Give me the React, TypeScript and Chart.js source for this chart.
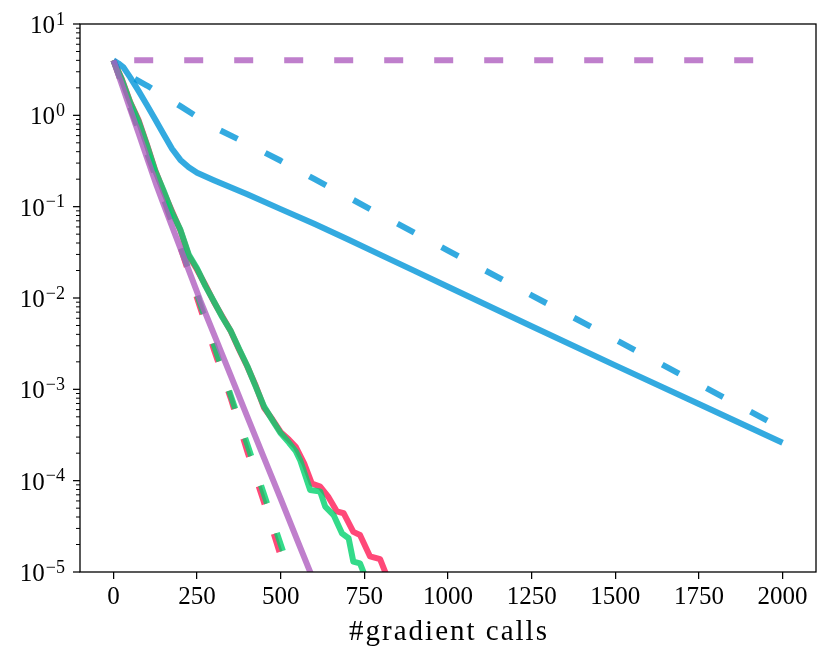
import { useEffect, useRef } from "react";
import Chart from "chart.js/auto";

const FONT = '"Liberation Serif", "Times New Roman", serif';

// axes
const xTickValues = [0, 250, 500, 750, 1000, 1250, 1500, 1750, 2000];
const yDecades = [1e-5, 1e-4, 1e-3, 1e-2, 1e-1, 1, 10];
const yExponentLabels = ["\u22125", "\u22124", "\u22123", "\u22122", "\u22121", "0", "1"];
const xTitle = "#gradient calls";

// purple
const purpleSolidX = [0, 25, 50, 75, 100, 130, 150, 200, 259, 300, 350, 400, 450, 500, 550, 600];
const purpleSolidY = [4.0, 2.17, 1.17, 0.64, 0.345, 0.166, 0.106, 0.0352, 0.0095, 0.00405, 0.00143, 0.000504, 0.000178, 0.000063, 0.000022, 0.0000078];
const purpleDashX = [62, 500, 1000, 1500, 2000];
const purpleDashY = [4.0, 4.0, 4.0, 4.0, 4.0];

// blue
const blueSolidX = [0, 15, 30, 50, 75, 100, 125, 150, 175, 200, 225, 250, 300, 350, 400, 500, 600, 700, 800, 900, 1000, 1250, 1500, 1750, 2000];
const blueSolidY = [4.0, 3.7, 3.35, 2.6, 1.85, 1.3, 0.9, 0.62, 0.43, 0.325, 0.27, 0.235, 0.195, 0.163, 0.137, 0.094, 0.065, 0.044, 0.0295, 0.0198, 0.0133, 0.0049, 0.00183, 0.00069, 0.00026];
const blueDashX = [64, 100, 200, 300, 400, 500, 600, 700, 800, 900, 1000, 1250, 1500, 1750, 2000];
const blueDashY = [2.5, 2.12, 1.26, 0.74, 0.49, 0.318, 0.201, 0.128, 0.081, 0.0518, 0.033, 0.0107, 0.0035, 0.00114, 0.00037];

// green
const greenSolidX = [0, 25, 50, 75, 100, 125, 150, 175, 200, 225, 250, 275, 300, 325, 350, 375, 400, 425, 450, 475, 500, 525, 545, 558, 588, 618, 633, 658, 683, 703, 717, 737, 755];
const greenSolidY = [4.0, 2.45, 1.38, 0.86, 0.47, 0.245, 0.15, 0.086, 0.056, 0.03, 0.021, 0.0135, 0.0092, 0.0062, 0.0044, 0.0028, 0.0018, 0.00108, 0.00065, 0.00046, 0.00033, 0.00026, 0.00021, 0.000168, 0.000079, 0.000076, 0.000052, 0.000042, 0.0000265, 0.0000234, 0.000013, 0.0000124, 0.0000085];
const greenDashX = [0, 50, 100, 150, 200, 250, 300, 350, 400, 450, 500, 540];
const greenDashY = [4.0, 1.26, 0.4, 0.126, 0.038, 0.011, 0.0031, 0.00087, 0.00025, 0.000071, 0.00002, 0.0000075];

// red
const redSolidX = [0, 25, 50, 75, 100, 125, 150, 175, 200, 225, 250, 275, 300, 325, 350, 375, 400, 425, 450, 475, 500, 525, 545, 570, 593, 618, 643, 668, 688, 717, 737, 767, 797, 820];
const redSolidY = [4.0, 2.5, 1.4, 0.89, 0.48, 0.25, 0.145, 0.089, 0.055, 0.029, 0.0204, 0.0138, 0.0091, 0.0063, 0.00437, 0.00275, 0.00178, 0.0011, 0.00063, 0.00047, 0.00034, 0.00028, 0.000235, 0.000155, 0.000093, 0.000086, 0.000066, 0.000046, 0.000044, 0.0000275, 0.0000254, 0.0000148, 0.0000138, 0.0000085];
const redDashX = [0, 50, 100, 150, 200, 250, 300, 350, 400, 450, 500, 530];
const redDashY = [4.0, 1.24, 0.39, 0.122, 0.036, 0.01, 0.00275, 0.00081, 0.00021, 0.000058, 0.000015, 0.0000068];

const PURPLE = "rgba(175, 95, 191, 0.8)";
const BLUE = "rgba(0, 149, 216, 0.8)";
const GREEN = "rgba(0, 210, 109, 0.8)";
const RED = "rgba(255, 26, 86, 0.8)";

const pts = (xs: number[], ys: number[]) => xs.map((x, i) => ({ x, y: ys[i] }));

function series(xs: number[], ys: number[], color: string, dashed: boolean, order: number) {
  return {
    data: pts(xs, ys),
    borderColor: color,
    borderWidth: 6,
    borderDash: dashed ? [19, 31] : [],
    borderJoinStyle: "round" as const,
    borderCapStyle: "butt" as const,
    pointRadius: 0,
    tension: 0,
    clip: 0,
    order,
  };
}

// box, y ticks, 10^k labels and the x title
const framePlugin = {
  id: "frame",
  afterDraw(chart: Chart) {
    const { ctx, chartArea } = chart;
    const y = chart.scales.y;
    ctx.save();
    ctx.strokeStyle = "#000";
    ctx.fillStyle = "#000";

    ctx.lineWidth = 1;
    for (let k = -5; k < 1; k++) {
      for (let m = 2; m < 10; m++) {
        const py = y.getPixelForValue(m * Math.pow(10, k));
        ctx.beginPath();
        ctx.moveTo(chartArea.left - 4, py);
        ctx.lineTo(chartArea.left, py);
        ctx.stroke();
      }
    }

    ctx.lineWidth = 1.25;
    const right = chartArea.left - 15;
    yDecades.forEach((v, i) => {
      const py = y.getPixelForValue(v);
      ctx.beginPath();
      ctx.moveTo(chartArea.left - 7, py);
      ctx.lineTo(chartArea.left, py);
      ctx.stroke();

      ctx.textAlign = "right";
      ctx.textBaseline = "alphabetic";
      ctx.font = `18px ${FONT}`;
      const exp = yExponentLabels[i];
      const expW = ctx.measureText(exp).width;
      ctx.fillText(exp, right, py + 0.5);
      ctx.font = `25px ${FONT}`;
      ctx.fillText("10", right - expW - 1, py + 9);
    });

    ctx.lineWidth = 1.3;
    ctx.strokeRect(
      chartArea.left,
      chartArea.top,
      chartArea.right - chartArea.left,
      chartArea.bottom - chartArea.top
    );

    ctx.font = `29px ${FONT}`;
    (ctx as any).letterSpacing = "2px";
    ctx.textAlign = "center";
    ctx.textBaseline = "middle";
    ctx.fillText(xTitle, (chartArea.left + chartArea.right) / 2 + 1, chart.height - 29);
    ctx.restore();
  },
};

export default function App() {
  const canvasRef = useRef<HTMLCanvasElement | null>(null);
  const chartRef = useRef<Chart | null>(null);

  useEffect(() => {
    if (!canvasRef.current) return;
    const ctx = canvasRef.current.getContext("2d");
    if (!ctx) return;
    if (chartRef.current) chartRef.current.destroy();

    chartRef.current = new Chart(ctx, {
      type: "line",
      data: {
        datasets: [
          series(purpleSolidX, purpleSolidY, PURPLE, false, 0),
          series(purpleDashX, purpleDashY, PURPLE, true, 1),
          series(blueSolidX, blueSolidY, BLUE, false, 2),
          series(blueDashX, blueDashY, BLUE, true, 3),
          series(greenSolidX, greenSolidY, GREEN, false, 4),
          series(greenDashX, greenDashY, GREEN, true, 5),
          series(redSolidX, redSolidY, RED, false, 6),
          series(redDashX, redDashY, RED, true, 7),
        ] as any,
      },
      options: {
        responsive: true,
        maintainAspectRatio: false,
        animation: false,
        events: [],
        layout: { padding: { top: 24, right: 15, left: 0, bottom: 0 } },
        plugins: {
          legend: { display: false },
          tooltip: { enabled: false },
        },
        scales: {
          x: {
            type: "linear",
            min: -100,
            max: 2100,
            afterBuildTicks: (s: any) => {
              s.ticks = xTickValues.map((value) => ({ value }));
            },
            afterFit: (s: any) => {
              s.height = 89;
            },
            ticks: {
              color: "#000",
              font: { family: FONT, size: 25 },
              maxRotation: 0,
              autoSkip: false,
              padding: 3,
              callback: (value) => String(value),
            },
            grid: {
              drawOnChartArea: false,
              tickLength: 7,
              color: "#000",
              lineWidth: 1.25,
            },
            border: { display: false },
          },
          y: {
            type: "logarithmic",
            min: 1e-5,
            max: 10,
            afterBuildTicks: (s: any) => {
              s.ticks = yDecades.map((value) => ({ value }));
            },
            afterFit: (s: any) => {
              s.width = 80;
            },
            ticks: { display: false },
            grid: { display: false },
            border: { display: false },
          },
        },
      },
      plugins: [framePlugin],
    });

    return () => chartRef.current?.destroy();
  }, []);

  return (
    <div style={{ position: "fixed", left: 0, top: 0, width: 831, height: 661, background: "#fff" }}>
      <canvas ref={canvasRef} />
    </div>
  );
}
